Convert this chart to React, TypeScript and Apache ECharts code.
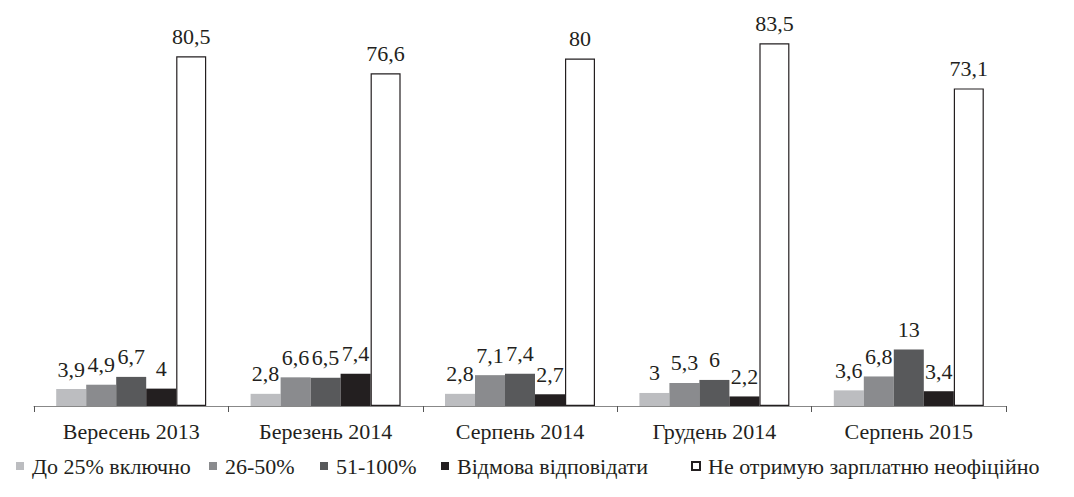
import React, { useEffect, useRef } from "react";
import * as echarts from "echarts";

const categories = ["Вересень 2013", "Березень 2014", "Серпень 2014", "Грудень 2014", "Серпень 2015"];
const seriesNames = ["До 25% включно", "26-50%", "51-100%", "Відмова відповідати", "Не отримую зарплатню неофіційно"];
const upTo25 = [3.9, 2.8, 2.8, 3, 3.6];
const from26to50 = [4.9, 6.6, 7.1, 5.3, 6.8];
const from51to100 = [6.7, 6.5, 7.4, 6, 13];
const refused = [4, 7.4, 2.7, 2.2, 3.4];
const noUnofficial = [80.5, 76.6, 80, 83.5, 73.1];
const colors = ["#bcbdc0", "#8a8b8e", "#58595b", "#231f20", "#ffffff"];
const legendLeft = [11, 204, 315, 436, 686];

const FONT = "Times New Roman, Liberation Serif, serif";

export default function App() {
  const ref = useRef<HTMLDivElement>(null);
  useEffect(() => {
    if (!ref.current) return;
    const chart = echarts.init(ref.current, undefined, { renderer: "svg" });
    const datasets = [upTo25, from26to50, from51to100, refused, noUnofficial];
    chart.setOption({
      animation: false,
      textStyle: { fontFamily: FONT },
      grid: { left: 34, right: 68, top: 15, bottom: 91 },
      legend: seriesNames.map((n, i) => ({
        left: legendLeft[i],
        top: 450,
        itemWidth: 8,
        itemHeight: 8,
        icon: "rect",
        selectedMode: false,
        textStyle: { fontFamily: FONT, fontSize: 22, color: "#231f20", padding: [0, 0, 0, 3] },
        data: [n],
      })),
      xAxis: {
        type: "category",
        data: categories,
        axisLine: { lineStyle: { color: "#888888", width: 1 } },
        axisTick: { show: true, length: 6, lineStyle: { color: "#555555" } },
        axisLabel: { fontFamily: FONT, fontSize: 22, color: "#231f20", margin: 14 },
      },
      yAxis: {
        type: "value",
        min: 0,
        max: 90,
        show: false,
        splitLine: { show: false },
      },
      series: datasets.map((d, i) => ({
        name: seriesNames[i],
        type: "bar",
        data: d,
        barWidth: 30,
        barGap: "0%",
        itemStyle: {
          color: colors[i],
          borderColor: i === 4 ? "#231f20" : colors[i],
          borderWidth: i === 4 ? 1.2 : 0,
        },
        label: {
          show: true,
          position: "top",
          distance: 9,
          fontFamily: FONT,
          fontSize: 22,
          color: "#231f20",
          formatter: (p: any) => String(p.value).replace(".", ","),
        },
      })),
    });
    return () => chart.dispose();
  }, []);
  return <div ref={ref} style={{ width: 1074, height: 497, position: "absolute", left: 0, top: 0, background: "#fff" }} />;
}
